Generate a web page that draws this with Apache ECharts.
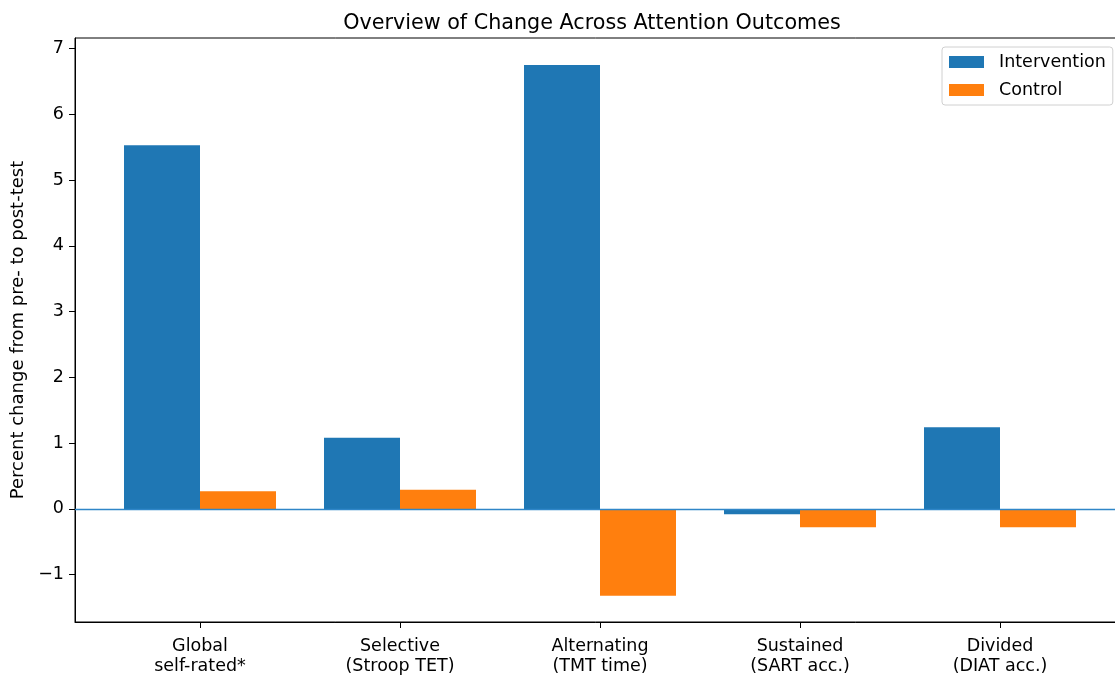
<!DOCTYPE html>
<html>
<head>
<meta charset="UTF-8">
<title>Overview of Change Across Attention Outcomes</title>
<script src="https://cdn.jsdelivr.net/npm/echarts@6/dist/echarts.min.js"></script>
<style>
  html, body { margin: 0; padding: 0; background: #fff; }
  #chart { width: 1115px; height: 675px; }
</style>
</head>
<body>
<div id="chart"></div>
<script type="text/javascript">
// categories and values
var categories = ['Global\nself-rated*', 'Selective\n(Stroop TET)', 'Alternating\n(TMT time)', 'Sustained\n(SART acc.)', 'Divided\n(DIAT acc.)'];
var intervention = [5.53, 1.08, 6.75, -0.08, 1.24];
var control = [0.27, 0.29, -1.32, -0.28, -0.28];
var yTicks = [-1, 0, 1, 2, 3, 4, 5, 6, 7];
var xTicks = [0, 1, 2, 3, 4];

var font = 'DejaVu Sans';
var myChart = echarts.init(document.getElementById('chart'));

function pairs(arr) {
  return arr.map(function (v, i) { return [i, v]; });
}

var option = {
  animation: false,
  textStyle: { fontFamily: font },
  title: {
    text: 'Overview of Change Across Attention Outcomes',
    left: 587, top: 8, textAlign: 'center',
    textStyle: { fontFamily: font, fontSize: 20.7, fontWeight: 'normal', color: '#000' }
  },
  legend: {
    orient: 'vertical',
    left: 942, top: 47,
    data: ['Intervention', 'Control'],
    icon: 'rect',
    itemWidth: 35, itemHeight: 12, itemGap: 10,
    padding: [6, 7, 6, 7],
    borderColor: '#d0d0d0', borderWidth: 1, borderRadius: 3,
    textStyle: { fontFamily: font, fontSize: 17.5, color: '#000', padding: [0, 0, 0, 10] }
  },
  grid: {
    left: 75, right: -10, top: 38, bottom: 53,
    outerBoundsMode: 'none',
    show: true, borderColor: '#000', borderWidth: 1
  },
  xAxis: {
    type: 'value',
    min: -0.625, max: 4.625,
    splitLine: { show: false },
    axisLine: { show: true, onZero: false, lineStyle: { color: '#000', width: 1 } },
    axisTick: { show: true, customValues: xTicks, length: 6, lineStyle: { color: '#000' } },
    axisLabel: {
      customValues: xTicks,
      formatter: function (v) { return categories[Math.round(v)] || ''; },
      fontFamily: font, fontSize: 17.5, color: '#000', lineHeight: 20, margin: 14
    }
  },
  yAxis: {
    type: 'value',
    min: -1.72, max: 7.16,
    name: 'Percent change from pre- to post-test',
    nameLocation: 'middle', nameGap: 46,
    nameTextStyle: { fontFamily: font, fontSize: 18, color: '#000' },
    splitLine: { show: false },
    axisLine: { show: true, onZero: false, lineStyle: { color: '#000', width: 1 } },
    axisTick: { show: true, customValues: yTicks, length: 6, lineStyle: { color: '#000' } },
    axisLabel: {
      customValues: yTicks,
      formatter: function (v) { return String(v).replace('-', '\u2212'); },
      fontFamily: font, fontSize: 17.5, color: '#000', margin: 11
    }
  },
  series: [
    {
      name: 'Intervention', type: 'bar',
      data: pairs(intervention),
      barWidth: 76, barGap: '0%',
      itemStyle: { color: '#1f77b4' },
      markLine: {
        silent: true, symbol: ['none', 'none'],
        label: { show: false },
        itemStyle: { color: '#2f86c8' },
        lineStyle: { color: '#2f86c8', width: 1.3, type: 'solid', opacity: 1 },
        emphasis: { disabled: true },
        data: [{ yAxis: 0, lineStyle: { color: '#2f86c8' } }]
      }
    },
    {
      name: 'Control', type: 'bar',
      data: pairs(control),
      barWidth: 76, barGap: '0%',
      itemStyle: { color: '#ff7f0e' }
    }
  ]
};
myChart.setOption(option);
</script>
</body>
</html>
